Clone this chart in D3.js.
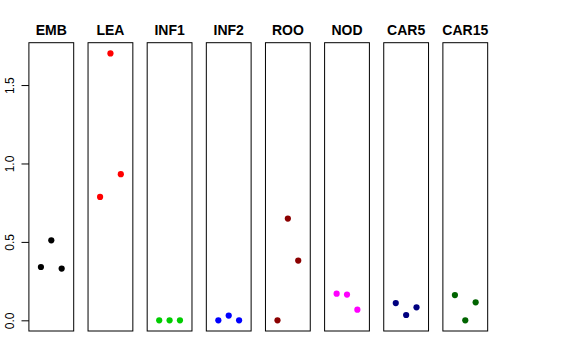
<!DOCTYPE html>
<html><head><meta charset="utf-8">
<script src="https://cdn.jsdelivr.net/npm/d3@7"></script>
<style>body{margin:0;background:#fff}svg{display:block}</style>
</head><body><svg width="576" height="360"></svg>
<script>
const categories = ["EMB","LEA","INF1","INF2","ROO","NOD","CAR5","CAR15"];
const colors = ["#000000","#ff0000","#00cd00","#0000ff","#8b0000","#ff00ff","#000080","#006400"];
const EMB = [0.34, 0.51, 0.33];
const LEA = [0.787, 1.702, 0.932];
const INF1 = [0.0, 0.0, 0.0];
const INF2 = [0.0, 0.03, 0.0];
const ROO = [0.0, 0.649, 0.381];
const NOD = [0.170, 0.164, 0.068];
const CAR5 = [0.110, 0.034, 0.083];
const CAR15 = [0.161, 0.0, 0.115];
const series = [EMB, LEA, INF1, INF2, ROO, NOD, CAR5, CAR15];
const yTicks = [0, 0.5, 1.0, 1.5];
const yTickLabels = ["0.0","0.5","1.0","1.5"];

(function(){
const svg = d3.select("svg");
const font = "'Liberation Sans', Arial, Helvetica, sans-serif";
const pTop = 42.7, pBottom = 331, firstLeft = 28.9, pitch = 59.14, pw = 44.8;
const ymax = d3.max(series.flat());
const pad = ymax * 0.04;
const y = d3.scaleLinear().domain([-pad, ymax + pad]).range([pBottom, pTop]);
const xg = d3.scaleBand().domain(categories).range([firstLeft, firstLeft + pitch * categories.length]).paddingInner(0).paddingOuter(0);
const xin = d3.scaleLinear().domain([0 - 0.16, 4 + 0.16]).range([0, pw]);

categories.forEach((c, i) => {
  const g = svg.append("g").attr("transform", `translate(${xg(c)},0)`);
  g.append("rect").attr("x", 0).attr("y", pTop).attr("width", pw).attr("height", pBottom - pTop)
    .attr("fill", "none").attr("stroke", "#000").attr("stroke-width", 1);
  g.append("text").attr("x", pw / 2).attr("y", 35).attr("text-anchor", "middle")
    .attr("font-family", font).attr("font-weight", "bold").attr("font-size", 14).text(c);
  g.selectAll("circle").data(series[i]).join("circle")
    .attr("cx", (d, j) => xin(j + 1)).attr("cy", d => y(d)).attr("r", 3.1)
    .attr("fill", colors[i]);
});

const ax = svg.append("g").attr("transform", `translate(${firstLeft},0)`);
const axis = d3.axisLeft(y).tickValues(yTicks).tickFormat((d, i) => yTickLabels[i]).tickSize(7.4).tickPadding(0);
ax.call(axis);
ax.select(".domain").remove();
ax.selectAll(".tick line").attr("stroke", "#000");
ax.selectAll(".tick text").remove();
ax.selectAll(".tick").append("text")
  .attr("transform", "translate(-15.2,0) rotate(-90)")
  .attr("text-anchor", "middle").attr("fill", "#000")
  .attr("font-family", font).attr("font-size", 12)
  .text((d, i) => yTickLabels[i]);
})();
</script></body></html>
